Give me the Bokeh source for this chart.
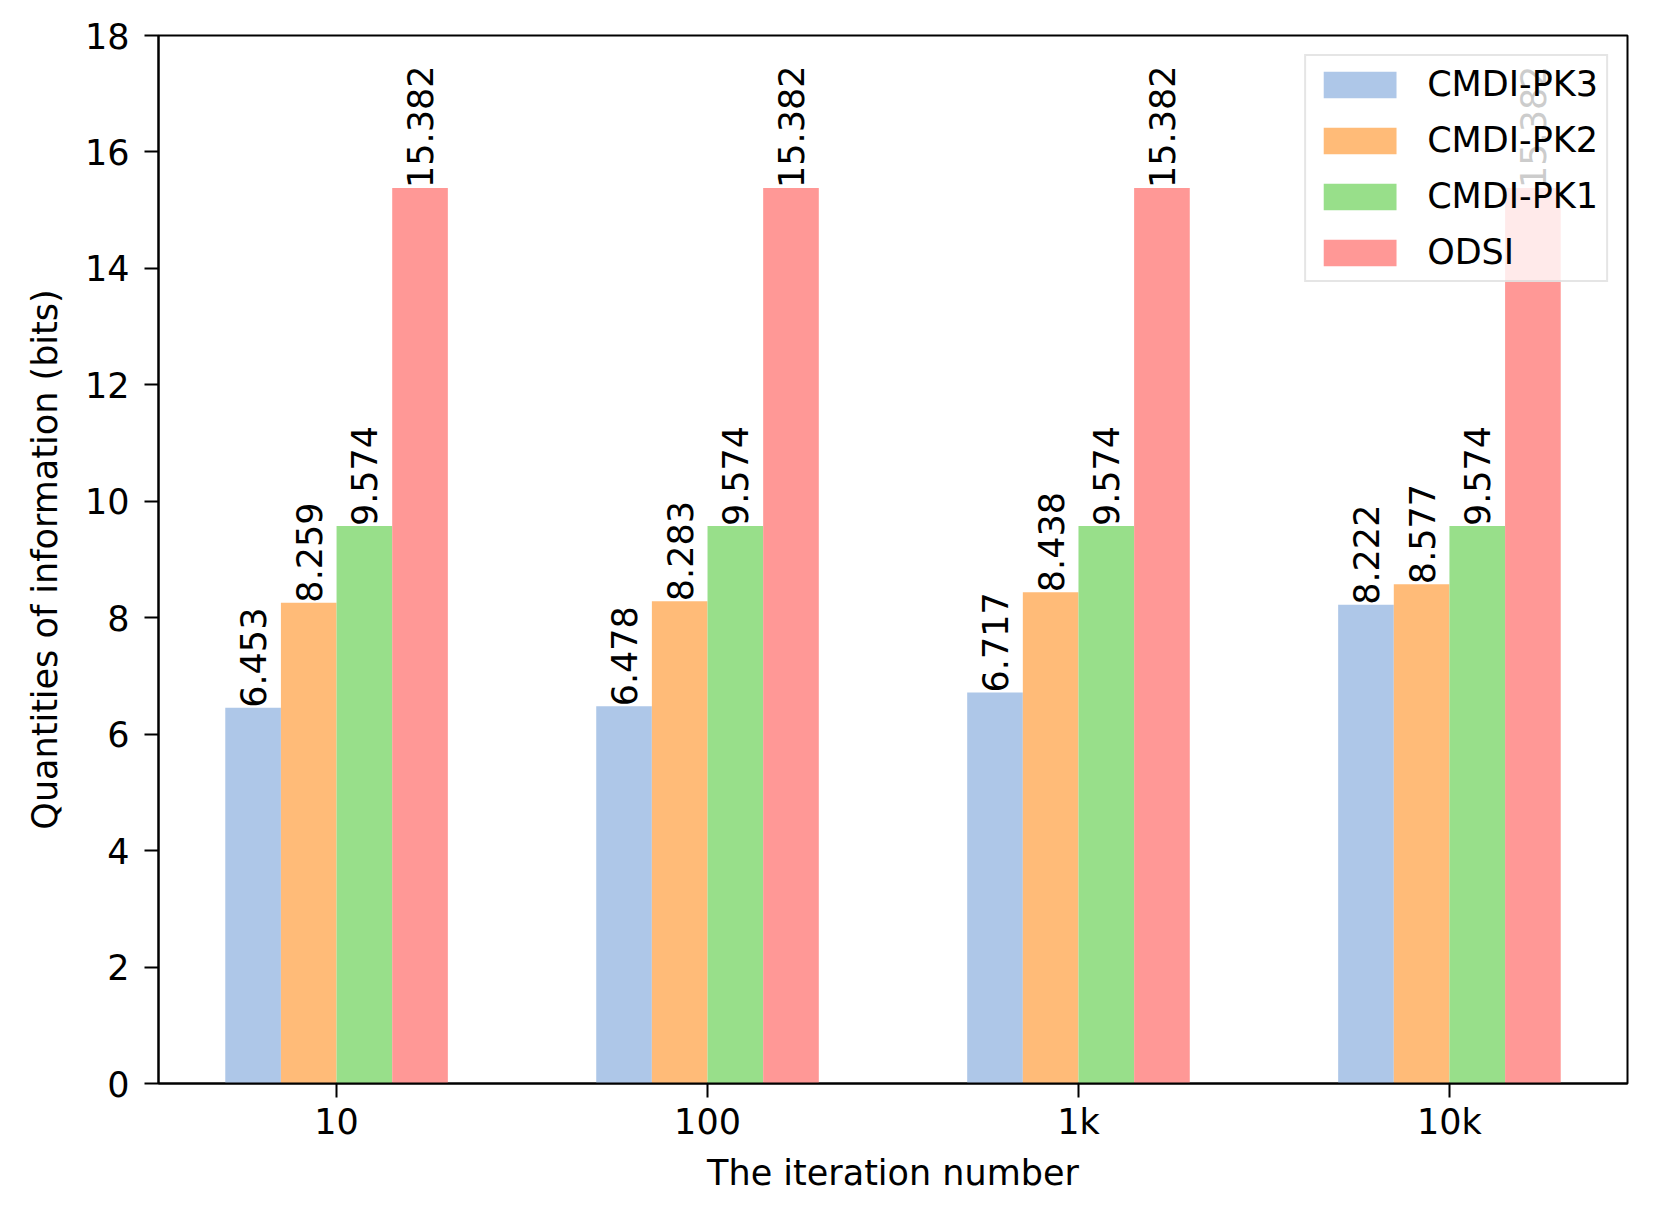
import math
from bokeh.plotting import figure
from bokeh.models import ColumnDataSource, FixedTicker, Range1d
from bokeh.core.properties import value
from bokeh.embed import file_html
from bokeh.resources import INLINE

categories = ["10", "100", "1k", "10k"]
series_names = ["CMDI-PK3", "CMDI-PK2", "CMDI-PK1", "ODSI"]
cmdi_pk3 = [6.453, 6.478, 6.717, 8.222]
cmdi_pk2 = [8.259, 8.283, 8.438, 8.577]
cmdi_pk1 = [9.574, 9.574, 9.574, 9.574]
odsi = [15.382, 15.382, 15.382, 15.382]
y_ticks = [0, 2, 4, 6, 8, 10, 12, 14, 16, 18]

series_values = [cmdi_pk3, cmdi_pk2, cmdi_pk1, odsi]
colors = ["#aec7e8", "#ffbb78", "#98df8a", "#ff9896"]
bar_w = 0.15
FONT = "DejaVu Sans"
FS = "35px"

p = figure(
    output_backend="svg", toolbar_location=None,
    frame_width=1469, frame_height=1048,
    min_border_left=158, min_border_right=19, min_border_top=35, min_border_bottom=112,
    x_range=Range1d(-0.48, 3.48), y_range=Range1d(0, 18),
)
p.background_fill_color = "white"
p.border_fill_color = "white"
p.outline_line_color = "black"
p.outline_line_width = 2
p.grid.visible = False

base = list(range(len(categories)))
for j, (name, vals, col) in enumerate(zip(series_names, series_values, colors)):
    xs = [b + (j - 1.5) * bar_w for b in base]
    src = ColumnDataSource(dict(x=xs, top=vals, lab=["{:.3f}".format(v) for v in vals]))
    p.vbar(x="x", top="top", width=bar_w, source=src, fill_color=col, line_color=None,
           legend_label=name)
    p.text(x="x", y="top", text="lab", source=src, angle=math.pi / 2,
           text_align="left", text_baseline="middle", text_color="black",
           text_font=value(FONT), text_font_size=FS)

for ax in (p.xaxis[0], p.yaxis[0]):
    ax.axis_line_color = "black"
    ax.axis_line_width = 2
    ax.major_tick_line_color = "black"
    ax.major_tick_line_width = 2
    ax.major_tick_out = 14
    ax.major_tick_in = 0
    ax.minor_tick_line_color = None
    ax.major_label_text_font = FONT
    ax.major_label_text_font_size = FS
    ax.major_label_text_color = "black"
    ax.axis_label_text_font = FONT
    ax.axis_label_text_font_size = FS
    ax.axis_label_text_font_style = "normal"
    ax.axis_label_text_color = "black"

p.xaxis.ticker = FixedTicker(ticks=base)
p.xaxis.major_label_overrides = {i: c for i, c in enumerate(categories)}
p.xaxis.axis_label = "The iteration number"
p.xaxis.major_label_standoff = 4
p.xaxis.axis_label_standoff = 8

p.yaxis.ticker = FixedTicker(ticks=y_ticks)
p.yaxis.axis_label = "Quantities of information (bits)"
p.yaxis.major_label_standoff = 15
p.yaxis.axis_label_standoff = 17

lg = p.legend[0]
lg.location = "top_right"
lg.margin = 19
lg.padding = 8
lg.spacing = 16
lg.glyph_width = 91
lg.glyph_height = 33
lg.label_standoff = 22
lg.label_text_font = FONT
lg.label_text_font_size = FS
lg.label_text_color = "black"
lg.border_line_color = "#cccccc"
lg.border_line_width = 2
lg.background_fill_color = "white"
lg.background_fill_alpha = 0.8

open("out.html", "w").write(file_html(p, INLINE))
